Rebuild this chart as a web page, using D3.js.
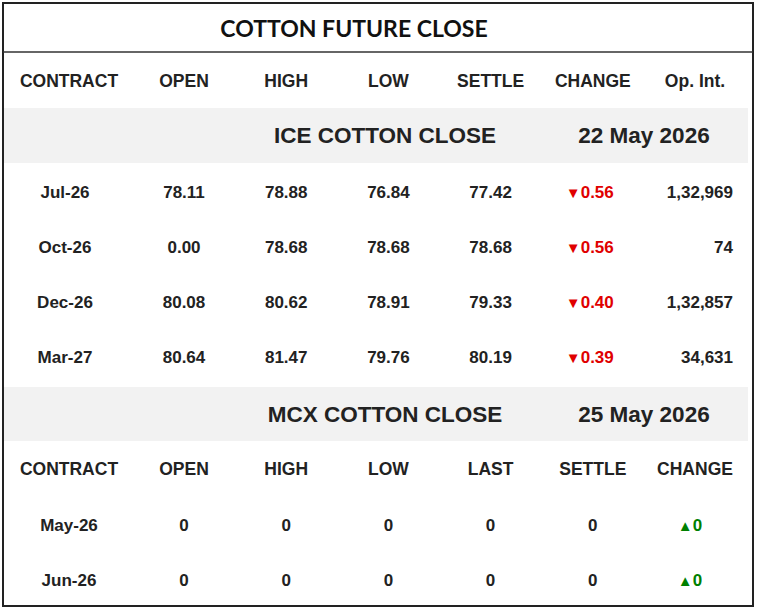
<!DOCTYPE html><html><head><meta charset="utf-8">
<script src="https://cdn.jsdelivr.net/npm/d3@7"></script>
<style>body{margin:0;background:#fff}</style></head><body>
<svg id="c" width="757" height="611"></svg>
<script>
const title = "COTTON FUTURE CLOSE";
const iceHeaders = ["CONTRACT","OPEN","HIGH","LOW","SETTLE","CHANGE","Op. Int."];
const iceTitle = "ICE COTTON CLOSE", iceDate = "22 May 2026";
const iceContracts = ["Jul-26","Oct-26","Dec-26","Mar-27"];
const iceOpen = ["78.11","0.00","80.08","80.64"];
const iceHigh = ["78.88","78.68","80.62","81.47"];
const iceLow = ["76.84","78.68","78.91","79.76"];
const iceSettle = ["77.42","78.68","79.33","80.19"];
const iceChange = [-0.56,-0.56,-0.40,-0.39];
const iceOI = ["1,32,969","74","1,32,857","34,631"];
const mcxTitle = "MCX COTTON CLOSE", mcxDate = "25 May 2026";
const mcxHeaders = ["CONTRACT","OPEN","HIGH","LOW","LAST","SETTLE","CHANGE"];
const mcxContracts = ["May-26","Jun-26"];
const mcxOpen = ["0","0"], mcxHigh=["0","0"], mcxLow=["0","0"], mcxLast=["0","0"], mcxSettle=["0","0"];
const mcxChange = [0,0];

const svg = d3.select("#c");
const F = "'Liberation Sans', Arial, sans-serif";
const x = d3.scalePoint().domain(d3.range(1,7)).range([184,695]);
const colX = i => i===0 ? 69 : x(i);

svg.append("rect").attr("x",3).attr("y",3).attr("width",750).attr("height",603).attr("fill","#fff").attr("stroke","#222").attr("stroke-width",2);
svg.append("line").attr("x1",3).attr("x2",753).attr("y1",52).attr("y2",52).attr("stroke","#333").attr("stroke-width",1.5);
svg.append("text").attr("x",354).attr("y",37).attr("text-anchor","middle").attr("font-family","Lato, Carlito, sans-serif").attr("font-weight","bold").attr("font-size",23).attr("fill","#111").text(title);

function txt(xp,y,t,opt={}){
  return svg.append("text").attr("x",xp).attr("y",y).attr("text-anchor",opt.anchor||"middle").attr("dominant-baseline","central")
   .attr("font-family",F).attr("font-weight","bold").attr("font-size",opt.size||17).attr("fill",opt.fill||"#222").text(t);
}
function header(y,hs){ hs.forEach((h,i)=>txt(colX(i),y,h,{size:17.5})); }
function band(y0,y1,t,d){
  svg.append("rect").attr("x",4).attr("y",y0).attr("width",744).attr("height",y1-y0).attr("fill","#f2f2f2");
  const cy=(y0+y1)/2;
  txt(385,cy,t,{size:22.5}); txt(644,cy,d,{size:22.5});
}
function change(xp,y,v){
  const down=v<0;
  const t=txt(xp,y,"",{fill:down?"#e00000":"#008000"});
  t.append("tspan").attr("font-size",15).text(down?"▼":"▲");
  t.append("tspan").text(Math.abs(v).toFixed(down?2:0));
}

header(81,iceHeaders);
band(108,163,iceTitle,iceDate);
const iceY = d3.scalePoint().domain(iceContracts).range([192,357]);
iceContracts.forEach((c,r)=>{
  const y=iceY(c);
  txt(65,y,c);
  [iceOpen,iceHigh,iceLow,iceSettle].forEach((arr,j)=>txt(colX(j+1),y,arr[r]));
  change(colX(5)-3,y,iceChange[r]);
  txt(733,y,iceOI[r],{anchor:"end"});
});
band(387,441,mcxTitle,mcxDate);
header(469,mcxHeaders);
const mcxY = d3.scalePoint().domain(mcxContracts).range([525,580]);
mcxContracts.forEach((c,r)=>{
  const y=mcxY(c);
  txt(69,y,c);
  [mcxOpen,mcxHigh,mcxLow,mcxLast,mcxSettle].forEach((arr,j)=>txt(colX(j+1),y,arr[r]));
  change(colX(6)-5,y,mcxChange[r]);
});
</script></body></html>
